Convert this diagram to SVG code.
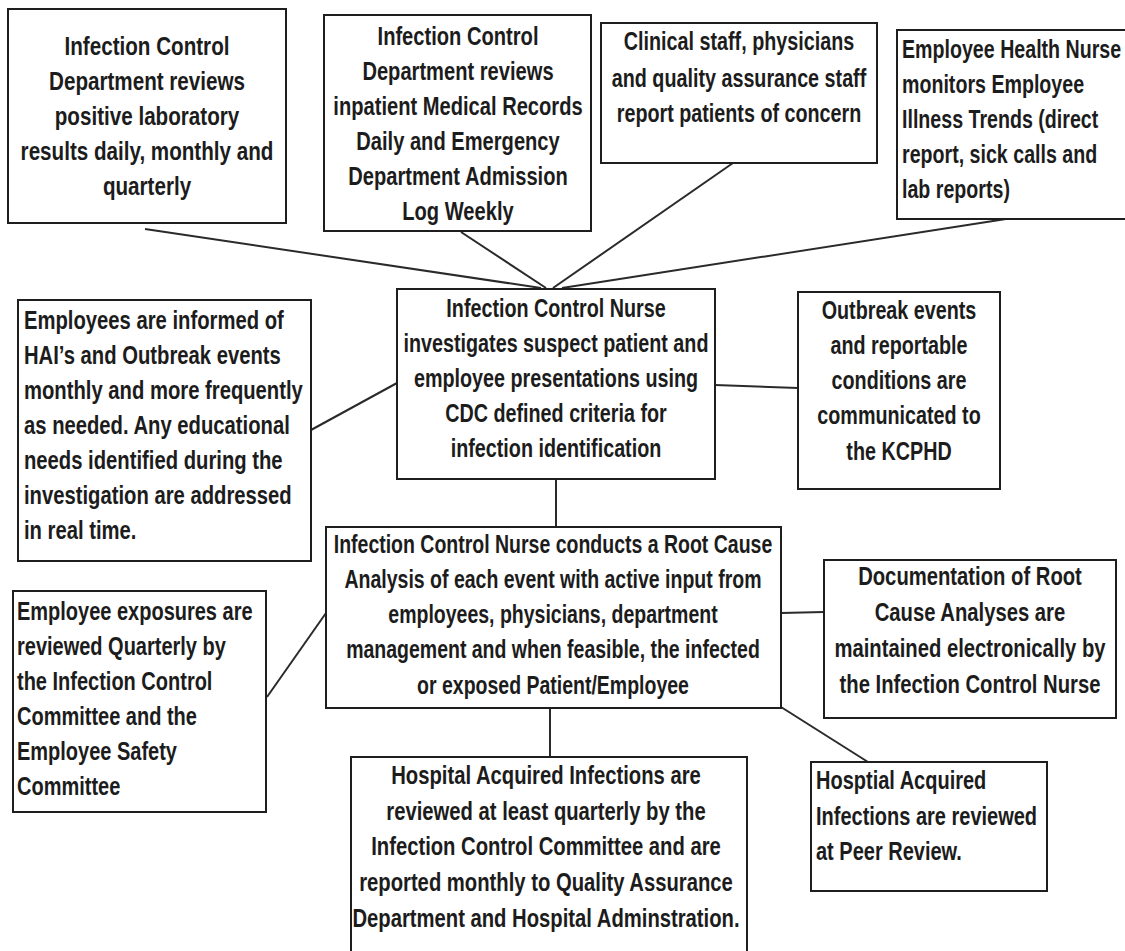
<svg xmlns="http://www.w3.org/2000/svg" width="1125" height="951" viewBox="0 0 1125 951">
<style>
  .box { fill: #ffffff; stroke: #1e1e1e; stroke-width: 2; }
  .conn { stroke: #2a2a2a; stroke-width: 2; fill: none; }
  text { font-family: "Liberation Sans", Arial, sans-serif; font-weight: bold; font-size: 25px; fill: #1c1c1c; }
  .c text { text-anchor: middle; }
  .l text { text-anchor: start; }
</style>
<rect x="0" y="0" width="1125" height="951" fill="#ffffff"/>

<g id="connectors">
  <line class="conn" x1="145" y1="229" x2="541" y2="288"/>
  <line class="conn" x1="461" y1="232" x2="546" y2="288"/>
  <line class="conn" x1="733" y1="163" x2="553" y2="288"/>
  <line class="conn" x1="1006" y1="219" x2="562" y2="288"/>
  <line class="conn" x1="311" y1="430" x2="397" y2="383"/>
  <line class="conn" x1="715" y1="385" x2="798" y2="388"/>
  <line class="conn" x1="556" y1="479" x2="556" y2="527"/>
  <line class="conn" x1="781" y1="613" x2="824" y2="612"/>
  <line class="conn" x1="267" y1="697" x2="326" y2="613"/>
  <line class="conn" x1="550" y1="708" x2="550" y2="757"/>
  <line class="conn" x1="781" y1="707" x2="868" y2="762"/>
</g>

<g id="n-lab-results">
  <rect class="box" x="8" y="9" width="278" height="214"/>
  <g class="c" transform="translate(147,0) scale(0.825,1)">
    <text x="0" y="55">Infection Control</text>
    <text x="0" y="90">Department reviews</text>
    <text x="0" y="125">positive laboratory</text>
    <text x="0" y="160">results daily, monthly and</text>
    <text x="0" y="195">quarterly</text>
  </g>
</g>

<g id="n-medical-records">
  <rect class="box" x="324" y="15" width="267" height="216"/>
  <g class="c" transform="translate(458,0) scale(0.805,1)">
    <text x="0" y="45">Infection Control</text>
    <text x="0" y="80">Department reviews</text>
    <text x="0" y="115">inpatient Medical Records</text>
    <text x="0" y="150">Daily and Emergency</text>
    <text x="0" y="185">Department Admission</text>
    <text x="0" y="220">Log Weekly</text>
  </g>
</g>

<g id="n-clinical-staff">
  <rect class="box" x="601" y="23" width="276" height="140"/>
  <g class="c" transform="translate(739,0) scale(0.79,1)">
    <text x="0" y="50">Clinical staff, physicians</text>
    <text x="0" y="87">and quality assurance staff</text>
    <text x="0" y="122">report patients of concern</text>
  </g>
</g>

<g id="n-employee-health">
  <rect class="box" x="897" y="30" width="240" height="189"/>
  <g class="l" transform="translate(902,0) scale(0.785,1)">
    <text x="0" y="58">Employee Health Nurse</text>
    <text x="0" y="93">monitors Employee</text>
    <text x="0" y="128">Illness Trends (direct</text>
    <text x="0" y="163">report, sick calls and</text>
    <text x="0" y="198">lab reports)</text>
  </g>
</g>

<g id="n-ic-nurse">
  <rect class="box" x="397" y="289" width="318" height="190"/>
  <g class="c" transform="translate(556,0) scale(0.79,1)">
    <text x="0" y="317">Infection Control Nurse</text>
    <text x="0" y="352">investigates suspect patient and</text>
    <text x="0" y="387">employee presentations using</text>
    <text x="0" y="422">CDC defined criteria for</text>
    <text x="0" y="457">infection identification</text>
  </g>
</g>

<g id="n-employees-informed">
  <rect class="box" x="18" y="300" width="293" height="261"/>
  <g class="l" transform="translate(24,0) scale(0.81,1)">
    <text x="0" y="329">Employees are informed of</text>
    <text x="0" y="364">HAI’s and Outbreak events</text>
    <text x="0" y="399">monthly and more frequently</text>
    <text x="0" y="434">as needed. Any educational</text>
    <text x="0" y="469">needs identified during the</text>
    <text x="0" y="504">investigation are addressed</text>
    <text x="0" y="539">in real time.</text>
  </g>
</g>

<g id="n-outbreak">
  <rect class="box" x="798" y="292" width="202" height="197"/>
  <g class="c" transform="translate(899,0) scale(0.79,1)">
    <text x="0" y="319">Outbreak events</text>
    <text x="0" y="354">and reportable</text>
    <text x="0" y="389">conditions are</text>
    <text x="0" y="424">communicated to</text>
    <text x="0" y="460">the KCPHD</text>
  </g>
</g>

<g id="n-rca">
  <rect class="box" x="326" y="527" width="455" height="181"/>
  <g class="c" transform="translate(553,0) scale(0.78,1)">
    <text x="0" y="553">Infection Control Nurse conducts a Root Cause</text>
    <text x="0" y="588">Analysis of each event with active input from</text>
    <text x="0" y="623">employees, physicians, department</text>
    <text x="0" y="658">management and when feasible, the infected</text>
    <text x="0" y="694">or exposed Patient/Employee</text>
  </g>
</g>

<g id="n-documentation">
  <rect class="box" x="824" y="560" width="292" height="158"/>
  <g class="c" transform="translate(970,0) scale(0.81,1)">
    <text x="0" y="585">Documentation of Root</text>
    <text x="0" y="621">Cause Analyses are</text>
    <text x="0" y="657">maintained electronically by</text>
    <text x="0" y="693">the Infection Control Nurse</text>
  </g>
</g>

<g id="n-employee-exposures">
  <rect class="box" x="13" y="591" width="253" height="221"/>
  <g class="l" transform="translate(17,0) scale(0.80,1)">
    <text x="0" y="620">Employee exposures are</text>
    <text x="0" y="655">reviewed Quarterly by</text>
    <text x="0" y="690">the Infection Control</text>
    <text x="0" y="725">Committee and the</text>
    <text x="0" y="760">Employee Safety</text>
    <text x="0" y="795">Committee</text>
  </g>
</g>

<g id="n-hai-committee">
  <rect class="box" x="351" y="757" width="396" height="210"/>
  <g class="c" transform="translate(546,0) scale(0.81,1)">
    <text x="0" y="784">Hospital Acquired Infections are</text>
    <text x="0" y="820">reviewed at least quarterly by the</text>
    <text x="0" y="855">Infection Control Committee and are</text>
    <text x="0" y="891">reported monthly to Quality Assurance</text>
    <text x="0" y="927">Department and Hospital Adminstration.</text>
  </g>
</g>

<g id="n-peer-review">
  <rect class="box" x="811" y="762" width="236" height="129"/>
  <g class="l" transform="translate(816,0) scale(0.80,1)">
    <text x="0" y="789">Hosptial Acquired</text>
    <text x="0" y="825">Infections are reviewed</text>
    <text x="0" y="860">at Peer Review.</text>
  </g>
</g>
</svg>
